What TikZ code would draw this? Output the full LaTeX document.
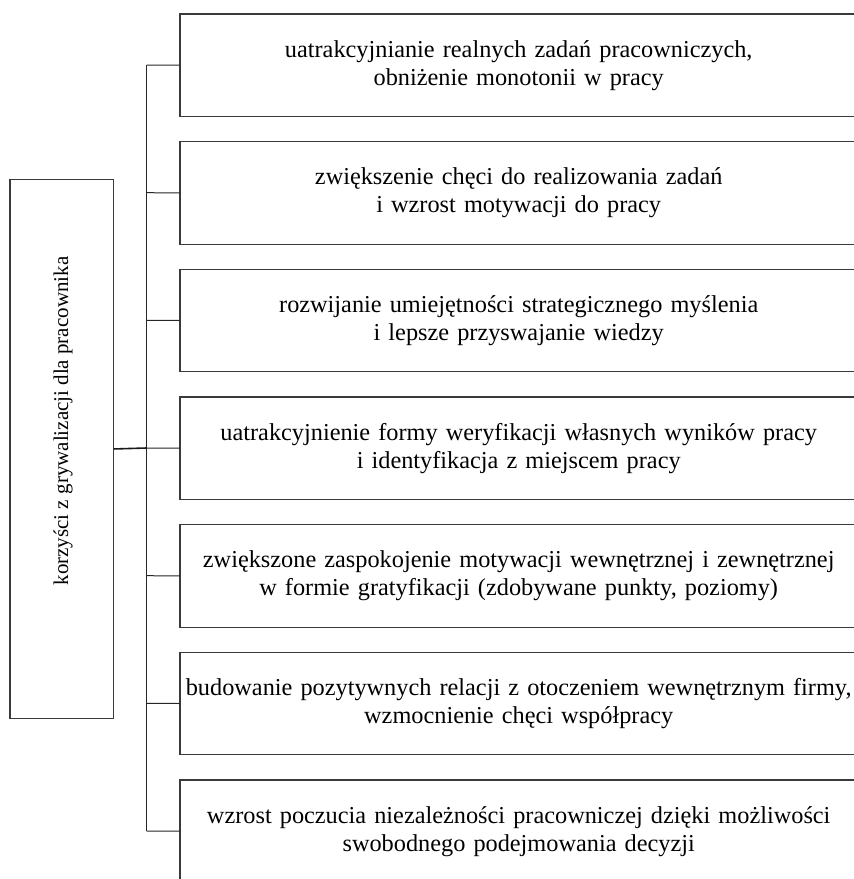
\documentclass[tikz,border=0pt]{standalone}
\usepackage{fontspec}
\setmainfont{Liberation Serif}
\definecolor{boxgray}{HTML}{3A3A3A}
\begin{document}
\begin{tikzpicture}[x=1pt,y=-1pt,
  item/.style={anchor=north west, text width=677pt, minimum height=102pt, inner sep=0pt, align=center, font=\fontsize{24.3}{28}\selectfont},
  boxline/.style={draw=boxgray, line width=1.2pt},
  rootbox/.style={draw=boxgray, line width=1.2pt, anchor=north west, minimum width=103.7pt, minimum height=538.7pt, inner sep=0pt},
  rootlabel/.style={rotate=90, inner sep=0pt, font=\fontsize{21}{26}\selectfont},
  link/.style={line width=1pt, draw=black!85},
  mainlink/.style={line width=1.6pt, draw=black!90}]
\useasboundingbox (0,0) rectangle (854,879);
\node[item] (b1) at (180,14) {uatrakcyjnianie realnych zadań pracowniczych,\\ obniżenie monotonii w pracy};
\node[item] (b2) at (180,141.7) {zwiększenie chęci do realizowania zadań\\ i wzrost motywacji do pracy};
\node[item] (b3) at (180,269.3) {rozwijanie umiejętności strategicznego myślenia\\ i lepsze przyswajanie wiedzy};
\node[item] (b4) at (180,397) {uatrakcyjnienie formy weryfikacji własnych wyników pracy\\ i identyfikacja z miejscem pracy};
\node[item] (b5) at (180,524.7) {zwiększone zaspokojenie motywacji wewnętrznej i zewnętrznej\\ w formie gratyfikacji (zdobywane punkty, poziomy)};
\node[item] (b6) at (180,652.3) {budowanie pozytywnych relacji z otoczeniem wewnętrznym firmy,\\ wzmocnienie chęci współpracy};
\node[item] (b7) at (180,780) {wzrost poczucia niezależności pracowniczej dzięki możliwości\\ swobodnego podejmowania decyzji};
\foreach \i in {1,...,7} {
  \draw[boxline] (b\i.north west) rectangle ([xshift=30pt]b\i.south east);
}
\node[rootbox] (root) at (9.3,179) {};
\node[rootlabel] (rl) at (63,421) {korzyści z grywalizacji dla pracownika};
\coordinate (t1) at (146.7,65);
\coordinate (t2) at (146.7,192.7);
\coordinate (t3) at (146.7,320.3);
\coordinate (t4) at (146.7,448);
\coordinate (t5) at (146.7,575.7);
\coordinate (t6) at (146.7,703.3);
\coordinate (t7) at (146.7,831);
\draw[link] (t1) -- (t7);
\foreach \i in {1,...,7} {
  \draw[link] (t\i) -- (b\i.west);
}
\draw[mainlink] (root.east) -- (t4);
\end{tikzpicture}
\end{document}
